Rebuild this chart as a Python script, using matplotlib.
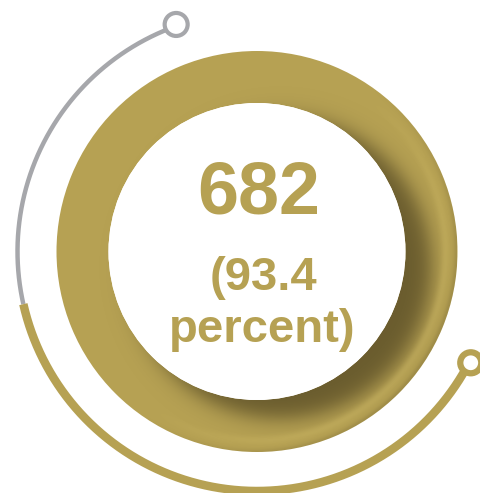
"""Headline ring: a count inside a bevelled gold donut, with a progress arc round it."""

import matplotlib

matplotlib.use("Agg")
import matplotlib.pyplot as plt
import numpy as np
from matplotlib.patches import Circle, Wedge

# headline figures
count = 682
share_pct = 93.4

# outer progress arc, degrees (counter-clockwise from 3 o'clock)
arc_start = 109.6     # grey segment begins at the top marker
arc_split = 192.7     # grey gives way to gold
arc_end = 332.5       # gold ends at the right marker

GOLD = "#B6A153"
GREY = "#A6A7AB"
SHADE = (0.25, 0.21, 0.10)
W, H = 481, 493

# ring geometry in pixel units
CX, CY = 257.0, 251.5
R_OUT, R_IN = 200.5, 148.5
R_ARC = 239.5


def arc_xy(t0, t1, r, n=400):
    th = np.radians(np.linspace(t0, t1, n))
    return CX + r * np.cos(th), CY - r * np.sin(th)


fig = plt.figure(figsize=(W / 100, H / 100), dpi=100)
ax = fig.add_axes([0, 0, 1, 1])
ax.set_xlim(0, W)
ax.set_ylim(H, 0)
ax.axis("off")

# gold donut
ring = Wedge((CX, CY), R_OUT, 0, 360, width=R_OUT - R_IN, facecolor=GOLD,
             edgecolor="none", zorder=1)
ax.add_patch(ring)

# inner shadow cast by the raised centre disc, lower right
xs = np.linspace(CX - R_OUT, CX + R_OUT, 800)
ys = np.linspace(CY - R_OUT, CY + R_OUT, 800)
gx, gy = np.meshgrid(xs, ys)
d = np.hypot(gx - (CX + 24), gy - (CY + 16))
dark = 0.64 * 0.5 * (1 - np.tanh((d - 151) / 12))

# soft highlight band near the outer rim on the shaded side
rr = np.hypot(gx - CX, gy - CY)
ang = np.arctan2(-(gy - CY), gx - CX)
side = np.clip(np.cos(ang + np.radians(35)), 0, 1)
glow = 0.35 * side * np.exp(-((rr - 189) / 4.5) ** 2)
rim = 0.18 * side * np.exp(-((rr - R_OUT) / 3.0) ** 2)

rgba = np.zeros(gx.shape + (4,))
rgba[..., :3] = SHADE
rgba[..., 3] = np.clip(dark + rim, 0, 1)
img = ax.imshow(rgba, extent=(xs[0], xs[-1], ys[-1], ys[0]), origin="upper",
                interpolation="bilinear", zorder=2)
img.set_clip_path(ring)

hl = np.zeros(gx.shape + (4,))
hl[..., :3] = (0.86, 0.78, 0.44)
hl[..., 3] = glow * (1 - np.clip(dark / 0.64, 0, 1))
img2 = ax.imshow(hl, extent=(xs[0], xs[-1], ys[-1], ys[0]), origin="upper",
                 interpolation="bilinear", zorder=2)
img2.set_clip_path(ring)

ax.add_patch(Circle((CX, CY), R_IN, facecolor="white", edgecolor="none", zorder=3))

# progress arc round the donut
x, y = arc_xy(arc_start, arc_split, R_ARC)
ax.plot(x, y, color=GREY, lw=3.2, solid_capstyle="butt", zorder=4)
x, y = arc_xy(arc_split, arc_end, R_ARC)
ax.plot(x, y, color=GOLD, lw=6.1, solid_capstyle="butt", zorder=4)

for a, col, lw, rm in [(arc_start, GREY, 3.0, 11.5), (arc_end, GOLD, 4.5, 10.5)]:
    mx, my = arc_xy(a, a, R_ARC + 1.5, n=1)
    ax.add_patch(Circle((mx[0], my[0]), rm, facecolor="white", edgecolor=col,
                        lw=lw, zorder=5))

font = dict(family=["Liberation Sans", "DejaVu Sans"], fontweight="bold", color=GOLD,
            ha="center", va="baseline", zorder=6)
ax.text(259, 214, f"{count}", fontsize=53, **font)
ax.text(263, 290, f"({share_pct}", fontsize=34, **font)
ax.text(262, 342, "percent)", fontsize=34, **font)

fig.savefig("out.png", dpi=100, facecolor="white")
